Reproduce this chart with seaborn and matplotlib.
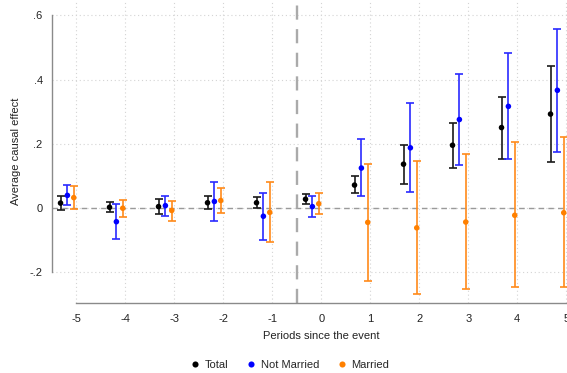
import numpy as np
import pandas as pd
import matplotlib
matplotlib.use("Agg")
import matplotlib.pyplot as plt
import seaborn as sns

# Event-study estimates with 95% confidence bounds, by group
periods = [-5, -4, -3, -2, -1, 0, 1, 2, 3, 4, 5]

total_est = [0.016, 0.003, 0.005, 0.017, 0.017, 0.028, 0.072, 0.137, 0.196, 0.251, 0.293]
total_lo = [-0.005, -0.012, -0.018, -0.003, 0.000, 0.012, 0.047, 0.076, 0.125, 0.154, 0.145]
total_hi = [0.038, 0.020, 0.030, 0.039, 0.035, 0.044, 0.100, 0.198, 0.266, 0.347, 0.443]

notmar_est = [0.040, -0.042, 0.008, 0.021, -0.025, 0.005, 0.125, 0.188, 0.276, 0.317, 0.367]
notmar_lo = [0.010, -0.096, -0.024, -0.040, -0.098, -0.028, 0.037, 0.051, 0.136, 0.154, 0.176]
notmar_hi = [0.072, 0.013, 0.038, 0.081, 0.048, 0.038, 0.215, 0.328, 0.417, 0.482, 0.558]

mar_est = [0.033, 0.000, -0.007, 0.024, -0.013, 0.014, -0.044, -0.061, -0.043, -0.022, -0.014]
mar_lo = [-0.003, -0.026, -0.040, -0.015, -0.106, -0.019, -0.225, -0.267, -0.252, -0.246, -0.246]
mar_hi = [0.068, 0.026, 0.024, 0.063, 0.081, 0.047, 0.138, 0.146, 0.168, 0.205, 0.223]

groups = ["Total", "Not Married", "Married"]
y_ticks = [-0.2, 0.0, 0.2, 0.4, 0.6]
y_tick_labels = ["-.2", "0", ".2", ".4", ".6"]
x_ticks = periods

# Horizontal dodge and colours for each group
offsets = {"Total": -0.32, "Not Married": -0.18, "Married": -0.05}
point_colors = {"Total": "#000000", "Not Married": "#0000ff", "Married": "#ff8000"}
bar_colors = {"Total": "#1a1a1a", "Not Married": "#2a2aff", "Married": "#ff8a1a"}

frames = []
for g, est, lo, hi in [("Total", total_est, total_lo, total_hi),
                       ("Not Married", notmar_est, notmar_lo, notmar_hi),
                       ("Married", mar_est, mar_lo, mar_hi)]:
    frames.append(pd.DataFrame({"period": periods, "estimate": est,
                                "lower": lo, "upper": hi, "group": g}))
df = pd.concat(frames, ignore_index=True)
df["xpos"] = df["period"] + df["group"].map(offsets)

sns.set_style("white")
plt.rcParams["font.family"] = ["Liberation Sans", "DejaVu Sans"]

fig = plt.figure(figsize=(5.67, 3.73), dpi=100)
ax = fig.add_axes([0.0912, 0.1885, 0.9506, 0.8115])

# Reference lines
ax.axhline(0, color="#9a9a9a", lw=1.0, ls=(0, (4, 3)), zorder=1)
ax.axvline(-0.5, color="#aaaaaa", lw=1.7, ls=(0, (6, 4)), zorder=1)

# Confidence intervals
for g in groups:
    sub = df[df["group"] == g]
    ax.errorbar(sub["xpos"], sub["estimate"],
                yerr=[sub["estimate"] - sub["lower"], sub["upper"] - sub["estimate"]],
                fmt="none", ecolor=bar_colors[g], elinewidth=1.2,
                capsize=3.2, capthick=1.2, zorder=2)

# Point estimates
sns.scatterplot(data=df, x="xpos", y="estimate", hue="group", hue_order=groups,
                palette=point_colors, s=16, linewidth=0, ax=ax, zorder=3)

ax.set_xlim(-5.5, 5.5)
ax.set_ylim(-0.294, 0.648)
ax.set_xticks(x_ticks)
ax.set_xticklabels([str(p) for p in x_ticks])
ax.set_yticks(y_ticks)
ax.set_yticklabels(y_tick_labels)

ax.grid(True, color="#d4d4d4", lw=0.8, ls=(0, (1, 2.5)))
ax.set_axisbelow(True)

for side in ["top", "right"]:
    ax.spines[side].set_visible(False)
for side in ["left", "bottom"]:
    ax.spines[side].set_color("#8a8a8a")
    ax.spines[side].set_linewidth(1.0)
ax.spines["left"].set_bounds(-0.2, 0.6)
ax.spines["bottom"].set_bounds(-5, 5)

ax.tick_params(axis="both", direction="out", length=3.5, width=0.9,
               color="#8a8a8a", labelsize=8, labelcolor="#222222", pad=3)
ax.tick_params(axis="x", pad=5)

ax.set_xlabel("Periods since the event", fontsize=8, color="#222222", labelpad=5)
ax.set_ylabel("Average causal effect", fontsize=8, color="#222222", labelpad=6)

sns.move_legend(ax, "center", bbox_to_anchor=(290 / 567, 8 / 373),
                bbox_transform=fig.transFigure, ncol=3, frameon=False,
                title=None, fontsize=8, markerscale=1.1,
                handlelength=0.8, handletextpad=0.5, columnspacing=1.6)

fig.savefig("out.png", dpi=100)
